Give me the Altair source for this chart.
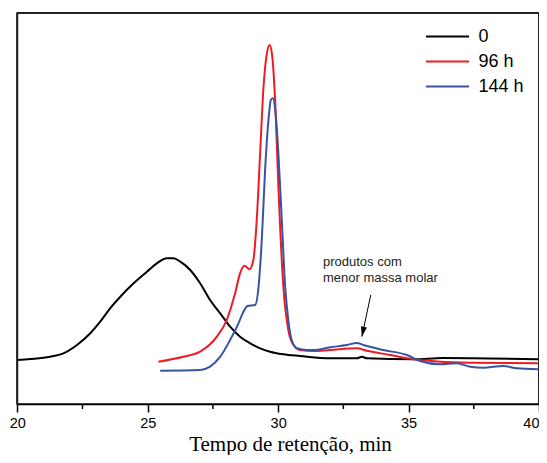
import altair as alt
import pandas as pd

# Series "0"
t0 = [20.0, 20.5, 21.26, 21.77, 22.29, 22.80, 23.18, 23.56, 23.95, 24.46, 24.97, 25.35, 25.74,
      25.99, 26.25, 26.63, 27.01, 27.39, 27.78, 28.16, 28.54, 28.93, 29.31, 29.69, 30.20, 30.84,
      31.99, 33.02, 33.21, 33.40, 35.18, 36.32, 39.97]
v0 = [44, 45, 47.3, 50.7, 59, 70.7, 82.3, 95.7, 107.3, 120.7, 132.3, 140.7, 145.7,
      145.7, 142.3, 134, 120.7, 104, 90.7, 77.3, 67.3, 60.7, 55.7, 52.3, 49.7, 48,
      45.7, 45.7, 47.3, 45.7, 44.7, 46, 44.7]

# Series "96 h"
t96 = [25.41, 26.37, 27.01, 27.65, 28.03, 28.35, 28.54, 28.71, 28.90, 29.05, 29.18, 29.31,
       29.44, 29.57, 29.67, 29.76, 29.89, 30.01, 30.20, 30.39, 30.59, 30.84, 31.35, 31.99,
       33.02, 33.40, 34.29, 35.18, 36.21, 37.48, 38.76, 39.97]
v96 = [42.3, 47.3, 52.3, 67.3, 84, 110.7, 130.7, 138.3, 134.7, 144, 184, 250.7,
       317.3, 350.7, 359, 350.7, 300.7, 217.3, 117.3, 74, 59, 54, 53, 54,
       55.7, 53.3, 49, 44.7, 42.3, 41.3, 41, 40.7]

# Series "144 h"
t144 = [25.48, 27.01, 27.39, 27.78, 28.16, 28.48, 28.67, 28.82, 29.12, 29.25, 29.38, 29.50,
        29.63, 29.72, 29.80, 29.89, 30.01, 30.14, 30.27, 30.39, 30.52, 30.72, 31.10, 31.35,
        31.99, 32.63, 33.02, 33.27, 34.03, 34.93, 35.44, 36.21, 36.85, 37.36, 37.87, 38.63,
        39.15, 39.97]
v144 = [33.3, 34, 37.3, 47.3, 64, 80.7, 92.3, 98, 99, 117.3, 167.3, 234,
        284, 304, 305.7, 294, 250.7, 184, 117.3, 84, 64, 55.7, 54, 54,
        56.7, 59, 61, 59, 54, 49, 43, 39.7, 40.7, 37.3, 36.3, 38,
        35.7, 34.7]

series_names = ["0", "96 h", "144 h"]
series_colors = ["#000000", "#ed1c24", "#3953a4"]

note_lines = ["produtos com", "menor massa molar"]
note_t = [31.72, 31.72]
note_v = [142, 126]

arrow_t = [33.55, 33.21]
arrow_v = [109, 67.3]

major_ticks = [20, 25, 30, 35, 40]
minor_ticks = [22.5, 27.5, 32.5, 37.5]

X_MIN, X_MAX = 20, 40
Y_MIN, Y_MAX = 0, 391

rows = []
for name, ts, vs in zip(series_names, [t0, t96, t144], [v0, v96, v144]):
    for i, (t, v) in enumerate(zip(ts, vs)):
        rows.append({"serie": name, "t": t, "v": v, "i": i})
df = pd.DataFrame(rows)

note_df = pd.DataFrame({"txt": note_lines, "t": note_t, "v": note_v})
arrow_df = pd.DataFrame({"t": arrow_t, "v": arrow_v, "i": [0, 1]})
head_df = arrow_df.iloc[[1]]
minor_df = pd.DataFrame({"t": minor_ticks})
# plot frame edges (top, left, right), built from the axis limits
frame_df = pd.DataFrame({
    "x1": [X_MIN, X_MIN, X_MAX],
    "x2": [X_MAX, X_MIN, X_MAX],
    "y1": [Y_MAX, Y_MIN, Y_MIN],
    "y2": [Y_MAX, Y_MAX, Y_MAX],
})

W, H = 522, 391
FRAME = "#222222"

xscale = alt.Scale(domain=[X_MIN - 0.01, X_MAX], nice=False, zero=False)
yscale = alt.Scale(domain=[Y_MIN, Y_MAX], nice=False, zero=False)

xaxis = alt.Axis(
    values=major_ticks,
    tickSize=8,
    grid=False,
    title="Tempo de retenção, min",
    titleFont="Liberation Serif",
    titleFontSize=21,
    titleFontWeight="normal",
    titleColor="#000000",
    titlePadding=4,
    titleX=273,
    labelFont="Liberation Sans",
    labelFontSize=14.5,
    labelColor="#000000",
    labelPadding=4,
    labelFlush=0.1,
    labelOverlap=False,
    tickColor="#000000",
    tickWidth=1.5,
    domainColor="#000000",
    domainWidth=1.5,
)

frame = alt.Chart(frame_df).mark_rule(color=FRAME, strokeWidth=2).encode(
    x=alt.X("x1:Q", scale=xscale, axis=xaxis),
    x2="x2:Q",
    y=alt.Y("y1:Q", scale=yscale, axis=None),
    y2="y2:Q",
)

lines = alt.Chart(df).mark_line(strokeWidth=2, interpolate="monotone").encode(
    x=alt.X("t:Q", scale=xscale),
    y=alt.Y("v:Q", scale=yscale),
    color=alt.Color(
        "serie:N",
        scale=alt.Scale(domain=series_names, range=series_colors),
        sort=series_names,
        legend=alt.Legend(
            title=None,
            orient="none",
            legendX=421.5,
            legendY=14.5,
            symbolType="M-4.3,0L4.3,0",
            symbolSize=100,
            symbolStrokeWidth=2,
            labelOffset=22,
            labelFont="Liberation Sans",
            labelFontSize=18,
            labelColor="#000000",
            rowPadding=7,
            padding=0,
        ),
    ),
    order="i:Q",
)

minor = alt.Chart(minor_df).mark_rule(color="#000000", strokeWidth=1.5).encode(
    x=alt.X("t:Q", scale=xscale),
    y=alt.value(H),
    y2=alt.value(H + 5),
)

note = alt.Chart(note_df).mark_text(
    align="left", baseline="middle", font="Liberation Sans", fontSize=13, color="#222222"
).encode(
    x=alt.X("t:Q", scale=xscale),
    y=alt.Y("v:Q", scale=yscale),
    text="txt:N",
)

arrow = alt.Chart(arrow_df).mark_line(color="#000000", strokeWidth=1).encode(
    x=alt.X("t:Q", scale=xscale),
    y=alt.Y("v:Q", scale=yscale),
    order="i:Q",
)

head = alt.Chart(head_df).mark_point(
    shape="M0,0L-0.3,-1L0.3,-1Z", size=400, angle=12, filled=True, color="#000000", opacity=1
).encode(
    x=alt.X("t:Q", scale=xscale),
    y=alt.Y("v:Q", scale=yscale),
)

chart = alt.layer(frame, lines, minor, note, arrow, head).properties(
    width=W,
    height=H,
    autosize=alt.AutoSizeParams(type="none"),
    padding={"left": 9, "top": 5, "right": 0, "bottom": 51},
).configure_view(
    stroke=FRAME,
    strokeWidth=1.5,
)

chart.save("out.html", embed_options={"renderer": "svg", "actions": False})
